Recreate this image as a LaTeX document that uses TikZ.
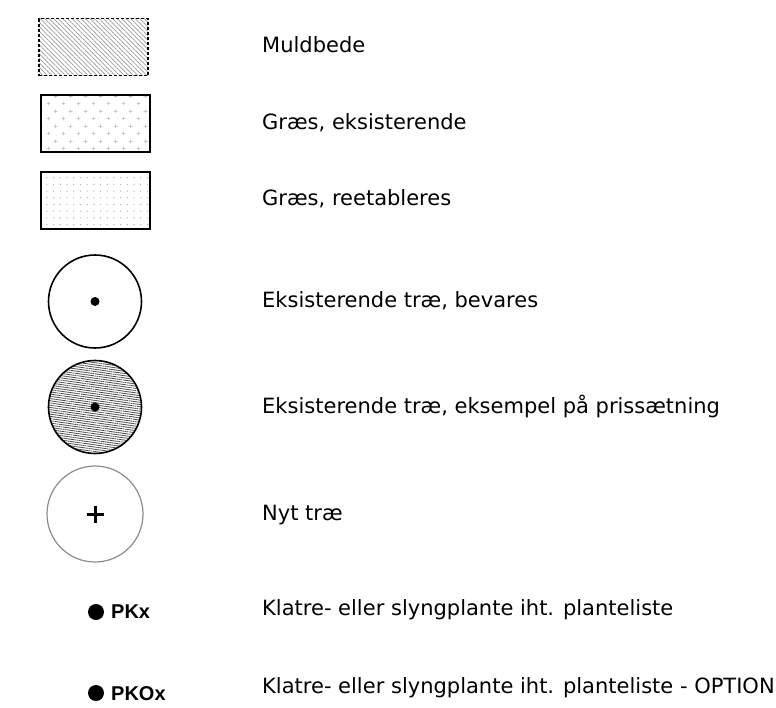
\documentclass[tikz,border=0pt]{standalone}
\usepackage{fontspec}
\setmainfont{DejaVu Sans}
\newfontfamily\pkfont{Liberation Sans}
\usepackage{xcolor}
\usepackage{tikz}
\usetikzlibrary{patterns.meta}
\definecolor{hatchgray}{HTML}{9A9A9A}
\definecolor{crossgray}{HTML}{B4B4B4}
\definecolor{ringgray}{HTML}{8C8C8C}
\pgfdeclarepattern{
  name=grascross,
  type=uncolored,
  bottom left={\pgfpoint{0pt}{0pt}},
  top right={\pgfpoint{15pt}{15pt}},
  tile size={\pgfpoint{15pt}{15pt}},
  code={
    \pgfsetlinewidth{0.6pt}
    \pgfpathmoveto{\pgfpoint{1.75pt}{3.75pt}}\pgfpathlineto{\pgfpoint{5.75pt}{3.75pt}}
    \pgfpathmoveto{\pgfpoint{3.75pt}{1.75pt}}\pgfpathlineto{\pgfpoint{3.75pt}{5.75pt}}
    \pgfpathmoveto{\pgfpoint{9.25pt}{11.25pt}}\pgfpathlineto{\pgfpoint{13.25pt}{11.25pt}}
    \pgfpathmoveto{\pgfpoint{11.25pt}{9.25pt}}\pgfpathlineto{\pgfpoint{11.25pt}{13.25pt}}
    \pgfusepath{stroke}
  }
}
\begin{document}
\begin{tikzpicture}[x=1pt, y=-1pt,
        bed/.style={rectangle, draw=black, line width=2.2pt, inner sep=0pt,
                    minimum width=109pt, minimum height=57pt},
        tree/.style={circle, draw=black, line width=1.6pt, inner sep=0pt,
                     minimum size=93pt},
        treedot/.style={circle, fill=black, inner sep=0pt, minimum size=9pt},
        pkdot/.style={circle, fill=black, inner sep=0pt, minimum size=16pt},
        legtext/.style={anchor=base west, inner sep=0pt,
                        font=\fontsize{21}{25}\selectfont},
        pktext/.style={anchor=base west, inner sep=0pt,
                       font=\pkfont\bfseries\fontsize{20}{24}\selectfont},
      ]
      \useasboundingbox (0,0) rectangle (776,707);
      \node[bed, draw=black, line width=1.4pt, dash pattern=on 3pt off 2pt,
            pattern={Lines[angle=-45, distance=3.2pt, line width=0.7pt]},
            pattern color=hatchgray] (muld) at (93.5,47) {};
      \node[bed, pattern=grascross, pattern color=crossgray] (graseks) at (95.5,123.5) {};
      \node[bed, pattern={Dots[distance=6.7pt, radius=0.7pt]},
            pattern color=crossgray] (grasnew) at (95.5,200.5) {};
      \node[tree] (treeold) at (95,301.5) {};
      \node[treedot] (treeolddot) at (95,301.5) {};
      \node[tree, pattern={Lines[angle=-8, distance=2.2pt, line width=0.8pt]},
            pattern color=black!70] (treepris) at (95,407) {};
      \node[treedot] (treeprisdot) at (95,407) {};
      \node[tree, draw=ringgray, line width=1.2pt, minimum size=96pt] (treenew) at (95,514) {};
      \draw[line width=3pt] (86.5,514) -- (103.5,514) (95,505.5) -- (95,522.5);
      \node[pkdot] (pkdot) at (96,612) {};
      \node[pktext] (pk) at (111,618.5) {PKx};
      \node[pkdot] (pkodot) at (96,693) {};
      \node[pktext] (pko) at (111,700) {PKOx};
      \node[legtext] (muldtxt) at (262,52.7) {Muldbede};
      \node[legtext] (grasekstxt) at (262,129) {Græs, eksisterende};
      \node[legtext] (grasnewtxt) at (262,205.5) {Græs, reetableres};
      \node[legtext] (treeoldtxt) at (262,307) {Eksisterende træ, bevares};
      \node[legtext] (treepristxt) at (262,413) {Eksisterende træ, eksempel på prissætning};
      \node[legtext] (treenewtxt) at (262,520) {Nyt træ};
      \node[legtext] (pktxt) at (262,615) {Klatre- eller slyngplante iht. planteliste};
      \node[legtext] (pkotxt) at (262,693) {Klatre- eller slyngplante iht. planteliste - OPTION};
    \end{tikzpicture}
\end{document}
